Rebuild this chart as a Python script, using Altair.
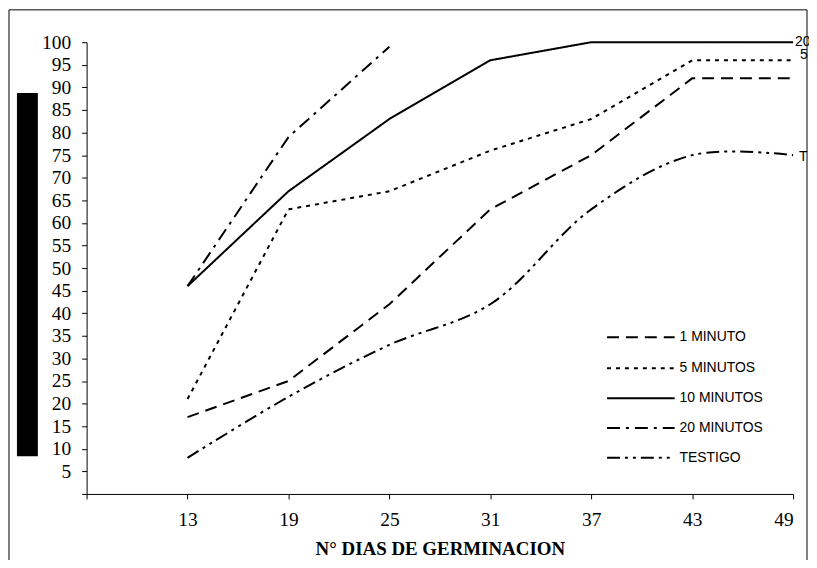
import altair as alt
import pandas as pd

days = [13, 19, 25, 31, 37, 43, 49]
series_names = ["1 MINUTO", "5 MINUTOS", "10 MINUTOS", "20 MINUTOS", "TESTIGO"]
v_1min = [17, 25, 42, 63, 75, 92, 92]
v_5min = [21, 63, 67, 76, 83, 96, 96]
v_10min = [46, 67, 83, 96, 100, 100, 100]
v_20min_days = [13, 19, 25]
v_20min = [46, 79, 99]
v_testigo = [8, 21.5, 33, 42, 63, 75, 75]

dashes = [[12, 7], [4, 5], [1, 0], [13, 6, 3, 6], [13, 5, 3, 5, 3, 5]]
widths = [2, 2, 1.5, 2.2, 2]

rows = []
for d, v in zip(days, v_1min):
    rows.append({"dia": d, "pct": v, "serie": "1 MINUTO"})
for d, v in zip(days, v_5min):
    rows.append({"dia": d, "pct": v, "serie": "5 MINUTOS"})
for d, v in zip(days, v_10min):
    rows.append({"dia": d, "pct": v, "serie": "10 MINUTOS"})
for d, v in zip(v_20min_days, v_20min):
    rows.append({"dia": d, "pct": v, "serie": "20 MINUTOS"})
for d, v in zip(days, v_testigo):
    rows.append({"dia": d, "pct": v, "serie": "TESTIGO"})
df = pd.DataFrame(rows)

# legend rows (placed in data space)
leg_y = [34.7, 27.8, 21.2, 14.6, 8.0]
legend_df = pd.DataFrame({
    "serie": series_names,
    "y": leg_y,
    "x1": [37.94] * 5,
    "x2": [41.96] * 5,
    "xt": [42.25] * 5,
})

# end labels (clipped at the right edge, as in the original)
end_txt = ["20", "5", "T"]
end_pct = [100, 96, 75]
end_dx = [2, 7, 6]
end_dy = [0, -5, 2]

xscale = alt.Scale(domain=[7, 49], nice=False, zero=False)
yscale = alt.Scale(domain=[0, 100], nice=False)
dash_scale = alt.Scale(domain=series_names, range=dashes)
width_scale = alt.Scale(domain=series_names, range=widths)

x_ticks = [7, 13, 19, 25, 31, 37, 43, 49]
y_ticks = list(range(0, 105, 5))

x_axis = alt.Axis(
    values=x_ticks,
    labelExpr="datum.value == 7 ? '' : datum.label",
    title="N° DIAS DE GERMINACION",
    titleFont="Liberation Serif",
    titleFontWeight="bold",
    titleFontSize=19,
    titlePadding=10,
    labelFont="Liberation Serif",
    labelFontSize=19.5,
    labelPadding=12,
    labelOverlap=False,
    tickSize=5,
    grid=False,
    domainColor="black",
    tickColor="black",
    labelColor="black",
    titleColor="black",
)
y_axis = alt.Axis(
    values=y_ticks,
    labelExpr="datum.value == 0 ? '' : datum.label",
    title=None,
    labelFont="Liberation Serif",
    labelFontSize=19.5,
    labelPadding=11,
    labelOverlap=False,
    labelBound=False,
    tickSize=5,
    grid=False,
    domainColor="black",
    tickColor="black",
    labelColor="black",
)

base = alt.Chart(df)

lines_lin = base.transform_filter(alt.datum.serie != "TESTIGO").mark_line(
    color="black", interpolate="linear"
).encode(
    x=alt.X("dia:Q", scale=xscale, axis=x_axis),
    y=alt.Y("pct:Q", scale=yscale, axis=y_axis),
    detail="serie:N",
    strokeDash=alt.StrokeDash("serie:N", scale=dash_scale, legend=None),
    strokeWidth=alt.StrokeWidth("serie:N", scale=width_scale, legend=None),
)

lines_test = base.transform_filter(alt.datum.serie == "TESTIGO").mark_line(
    color="black", interpolate="catmull-rom"
).encode(
    x=alt.X("dia:Q", scale=xscale, axis=x_axis),
    y=alt.Y("pct:Q", scale=yscale, axis=y_axis),
    strokeDash=alt.StrokeDash("serie:N", scale=dash_scale, legend=None),
    strokeWidth=alt.StrokeWidth("serie:N", scale=width_scale, legend=None),
)

leg_rules = alt.Chart(legend_df).mark_rule(color="black").encode(
    x=alt.X("x1:Q", scale=xscale, axis=x_axis),
    x2="x2:Q",
    y=alt.Y("y:Q", scale=yscale, axis=y_axis),
    strokeDash=alt.StrokeDash("serie:N", scale=dash_scale, legend=None),
    strokeWidth=alt.StrokeWidth("serie:N", scale=width_scale, legend=None),
)
leg_text = alt.Chart(legend_df).mark_text(
    align="left", baseline="middle", font="Liberation Sans", fontSize=14, color="black"
).encode(
    x=alt.X("xt:Q", scale=xscale, axis=x_axis),
    y=alt.Y("y:Q", scale=yscale, axis=y_axis),
    text="serie:N",
)

end_layers = []
for t, p, dx, dy in zip(end_txt, end_pct, end_dx, end_dy):
    end_layers.append(
        alt.Chart(pd.DataFrame({"txt": [t], "dia": [days[-1]], "pct": [p]})).mark_text(
            align="left", baseline="middle", font="Liberation Sans", fontSize=14,
            color="black", dx=dx, dy=dy
        ).encode(
            x=alt.X("dia:Q", scale=xscale, axis=x_axis),
            y=alt.Y("pct:Q", scale=yscale, axis=y_axis),
            text="txt:N",
        )
    )

one = alt.Data(values=[{"k": 1}])
black_bar = alt.Chart(one).mark_rect(color="black").encode(
    x=alt.value(-70), x2=alt.value(-49), y=alt.value(51), y2=alt.value(416)
)
frame = alt.Chart(one).mark_rect(fill="transparent", stroke="black", strokeWidth=1).encode(
    x=alt.value(-78), x2=alt.value(724), y=alt.value(-32.5), y2=alt.value(600)
)

chart = alt.layer(
    frame, black_bar, lines_lin, lines_test, leg_rules, leg_text, *end_layers
).properties(
    width=710,
    height=454,
    padding={"left": 79, "top": 33, "right": 16, "bottom": 65},
    autosize=alt.AutoSizeParams(type="none"),
    background="white",
).configure_view(stroke="transparent").configure_axis(labelOverlap=False)

chart.save("out.html", embed_options={"renderer": "svg", "actions": False})
